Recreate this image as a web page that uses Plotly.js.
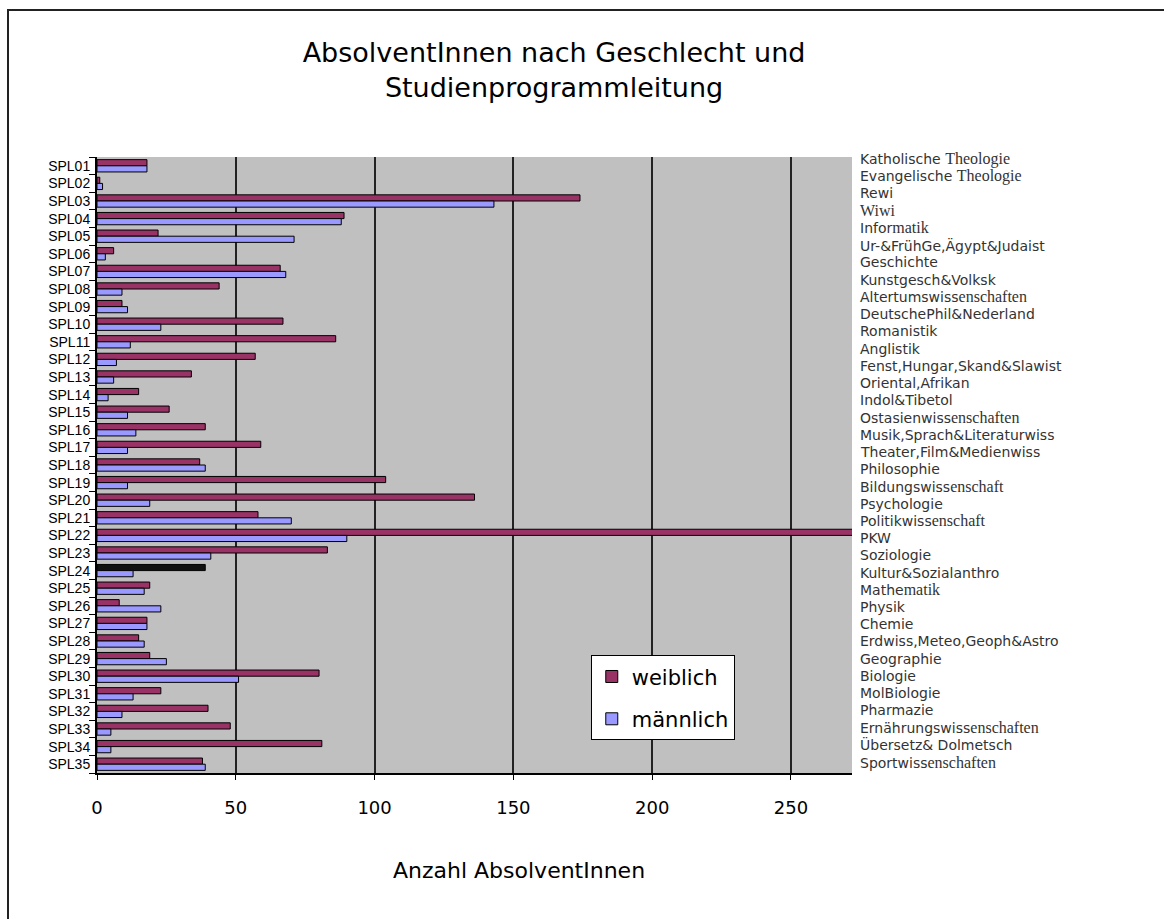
<!DOCTYPE html>
<html>
<head>
<meta charset="utf-8">
<script src="https://cdn.plot.ly/plotly-3.0.1.min.js"></script>
<style>
  html, body { margin: 0; padding: 0; background: #fff; }
  #wrap { position: relative; width: 1164px; height: 919px; overflow: hidden; }
  #chart { width: 1164px; height: 919px; }
  #frame { position: absolute; left: 7px; top: 9px; width: 1160px; height: 915px;
           border-left: 2px solid #222; border-top: 2px solid #222; pointer-events: none; }
</style>
</head>
<body>
<div id="wrap">
  <div id="chart"></div>
  <div id="frame"></div>
</div>
<script>
const categories = ["SPL01","SPL02","SPL03","SPL04","SPL05","SPL06","SPL07","SPL08","SPL09","SPL10",
  "SPL11","SPL12","SPL13","SPL14","SPL15","SPL16","SPL17","SPL18","SPL19","SPL20",
  "SPL21","SPL22","SPL23","SPL24","SPL25","SPL26","SPL27","SPL28","SPL29","SPL30",
  "SPL31","SPL32","SPL33","SPL34","SPL35"];

const programNames = ["Katholische Theologie","Evangelische Theologie","Rewi","Wiwi","Informatik",
  "Ur-&FrühGe,Ägypt&Judaist","Geschichte","Kunstgesch&Volksk","Altertumswissenschaften",
  "DeutschePhil&Nederland","Romanistik","Anglistik","Fenst,Hungar,Skand&Slawist","Oriental,Afrikan",
  "Indol&Tibetol","Ostasienwissenschaften","Musik,Sprach&Literaturwiss","Theater,Film&Medienwiss",
  "Philosophie","Bildungswissenschaft","Psychologie","Politikwissenschaft","PKW","Soziologie",
  "Kultur&Sozialanthro","Mathematik","Physik","Chemie","Erdwiss,Meteo,Geoph&Astro","Geographie",
  "Biologie","MolBiologie","Pharmazie","Ernährungswissenschaften","Übersetz& Dolmetsch",
  "Sportwissenschaften"];

const weiblich = [18,1,174,89,22,6,66,44,9,67,86,57,34,15,26,39,59,37,104,136,
  58,285,83,39,19,8,18,15,19,80,23,40,48,81,38];
const maennlich = [18,2,143,88,71,3,68,9,11,23,12,7,6,4,11,14,11,39,11,19,
  70,90,41,13,17,23,18,17,25,51,13,9,5,5,39];

const xTicks = [0,50,100,150,200,250];
const xTitle = "Anzahl AbsolventInnen";

const SANS = "'DejaVu Sans', Arial, sans-serif";
const SERIF = "Liberation Serif, DejaVu Serif, serif";

// the source mixes a serif face into some label endings
function styleName(s) {
  const m = s.match(/(Theologie|enschaften|enschaft|matik|Wiwi)$/);
  if (!m) return s;
  const head = s.slice(0, s.length - m[1].length);
  return head + '<span style="font-family:' + SERIF + ';font-size:16px">' + m[1] + '</span>';
}

const femColors = categories.map(c => c === "SPL24" ? "#111111" : "#993366");

const traces = [
  { type: "bar", orientation: "h", name: "weiblich", legendgroup: "w", y: categories, x: weiblich,
    marker: { color: femColors, line: { color: "#000", width: 1 } } },
  { type: "bar", orientation: "h", name: "männlich", legendgroup: "m", y: categories, x: maennlich,
    marker: { color: "#9999FF", line: { color: "#000", width: 1 } } }
];

// right-hand text block of programme names (independent of the bar rows)
const plotTop = 157, plotBottom = 773, firstLabelY = 159, labelStep = 17.23;
const annotations = programNames.map((n, i) => ({
  xref: "paper", yref: "paper",
  x: 1.008, xanchor: "left",
  y: (plotBottom - (firstLabelY + i * labelStep)) / (plotBottom - plotTop), yanchor: "middle",
  text: styleName(n), showarrow: false,
  font: { size: 14, color: "#333", family: SANS }
}));

// x-axis title (sits right of plot centre in the source)
annotations.push({
  xref: "paper", yref: "paper", x: 0.559, xanchor: "center",
  y: -0.159, yanchor: "middle", text: xTitle, showarrow: false,
  font: { size: 22, color: "#000", family: SANS }
});

const layout = {
  width: 1164, height: 919,
  paper_bgcolor: "#ffffff",
  plot_bgcolor: "#C0C0C0",
  font: { family: SANS, color: "#000" },
  margin: { l: 97, r: 312, t: 157, b: 146 },
  title: {
    text: "AbsolventInnen nach Geschlecht und<br>Studienprogrammleitung",
    font: { size: 27, color: "#000", family: SANS },
    x: 0.476, xref: "container", xanchor: "center",
    y: 0.933, yref: "container", yanchor: "top"
  },
  barmode: "group",
  bargap: 0.3,
  bargroupgap: 0,
  xaxis: {
    range: [0, 272],
    tickvals: xTicks,
    ticktext: xTicks.map(String),
    ticks: "outside", ticklen: 5, tickcolor: "#000",
    showline: true, linecolor: "#000", linewidth: 2,
    showgrid: true, gridcolor: "#222", gridwidth: 2,
    zeroline: false,
    tickfont: { size: 18, color: "#000" },
    ticklabelstandoff: 12,
    fixedrange: true
  },
  yaxis: {
    type: "category",
    range: [34.5, -0.5],
    categoryorder: "array", categoryarray: categories,
    tickmode: "array", tickvals: categories, ticktext: categories,
    ticks: "outside", ticklen: 6, tickcolor: "#000", tickson: "boundaries",
    showline: true, linecolor: "#000", linewidth: 2,
    showgrid: false, zeroline: false,
    tickfont: { size: 14, color: "#000", family: "Arial, 'Liberation Sans', sans-serif" },
    ticklabelstandoff: 2,
    fixedrange: true
  },
  legend: {
    x: 0.654, xanchor: "left", y: 0.191, yanchor: "top",
    bgcolor: "#ffffff", bordercolor: "#000", borderwidth: 1,
    font: { size: 21, color: "#000" },
    traceorder: "grouped",
    tracegroupgap: 12
  },
  showlegend: true,
  annotations: annotations
};

Plotly.newPlot("chart", traces, layout, { displayModeBar: false, staticPlot: true });
</script>
</body>
</html>
